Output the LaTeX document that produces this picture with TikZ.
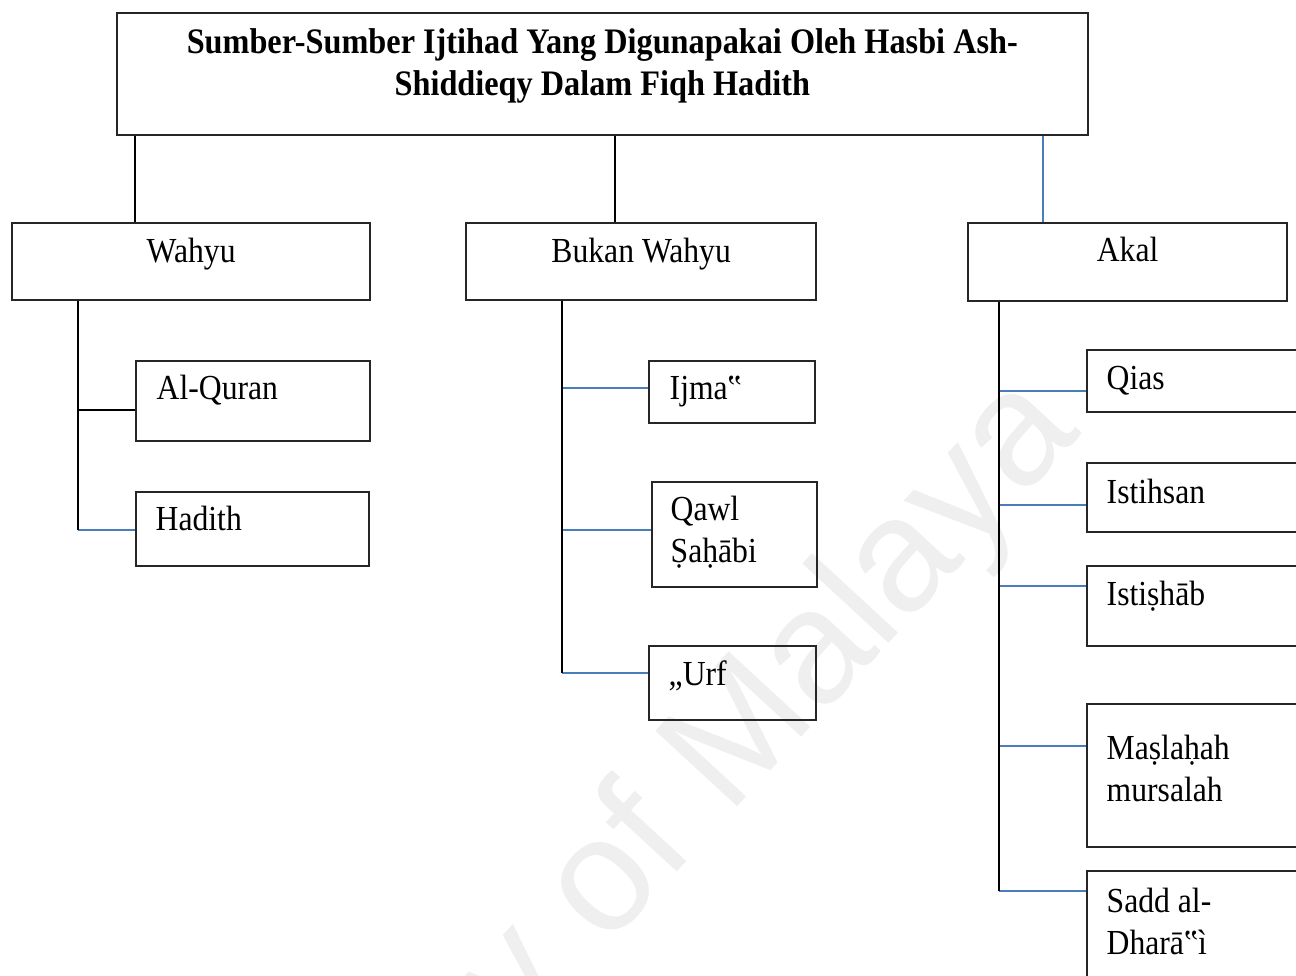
\documentclass[tikz,border=0pt]{standalone}
\usepackage{fontspec}
\setmainfont{Liberation Serif}[FakeStretch=0.9]
\newfontfamily\tandaair{Liberation Sans}

\definecolor{birugaris}{RGB}{74,126,187}
\definecolor{kelabu}{RGB}{239,239,239}

\tikzset{
    kotak/.style={draw=black!85, line width=0.6pt, inner sep=0pt, anchor=north west},
    teks/.style={anchor=north west, inner sep=0pt, align=left, font=\fontsize{10}{12}\selectfont},
    hitam/.style={draw=black, line width=0.6pt},
    biru/.style={draw=birugaris, line width=0.6pt}
}

\begin{document}
\begin{tikzpicture}[x=0.01cm, y=-0.01cm]
        \useasboundingbox (0,0) rectangle (1296,976);
        \clip (0,0) rectangle (1296,976);

        % Tanda air
        \node[rotate=47.3, text=kelabu, font=\tandaair\fontsize{46}{46}\selectfont] (tanda) at (558,940) {University of Malaya};

        % Tajuk
        \node[kotak, minimum width=9.70cm, minimum height=1.22cm,
              label={[teks, anchor=north, align=center, font=\fontsize{10.2}{12}\selectfont\bfseries, yshift=-0.114cm]north:{\strut Sumber-Sumber Ijtihad Yang Digunapakai Oleh Hasbi Ash-\\Shiddieqy Dalam Fiqh Hadith}}] (judul) at (116,12) {};

        % Tiga sumber
        \node[kotak, minimum width=3.58cm, minimum height=0.77cm, label={[teks, anchor=north, yshift=-0.104cm]north:\strut Wahyu}] (wahyu) at (11,222) {};
        \node[kotak, minimum width=3.50cm, minimum height=0.77cm, label={[teks, anchor=north, yshift=-0.104cm]north:\strut Bukan Wahyu}] (bukan) at (465,222) {};
        \node[kotak, minimum width=3.19cm, minimum height=0.78cm, label={[teks, anchor=north, yshift=-0.094cm]north:\strut Akal}] (akal) at (967,222) {};

        % Wahyu
        \node[kotak, minimum width=2.34cm, minimum height=0.80cm, label={[teks, xshift=0.21cm, yshift=-0.094cm]north west:\strut Al-Quran}] (quran) at (135,360) {};
        \node[kotak, minimum width=2.33cm, minimum height=0.74cm, label={[teks, xshift=0.20cm, yshift=-0.094cm]north west:\strut Hadith}] (hadith) at (135,491) {};

        % Bukan wahyu
        \node[kotak, minimum width=1.66cm, minimum height=0.62cm, label={[teks, xshift=0.21cm, yshift=-0.094cm]north west:\strut Ijma‟}] (ijma) at (648,360) {};
        \node[kotak, minimum width=1.65cm, minimum height=1.05cm, label={[teks, xshift=0.19cm, yshift=-0.094cm]north west:{\strut Qawl\\Ṣaḥābi}}] (qawl) at (651,481) {};
        \node[kotak, minimum width=1.67cm, minimum height=0.74cm, label={[teks, xshift=0.20cm, yshift=-0.104cm]north west:\strut „Urf}] (urf) at (648,645) {};

        % Akal
        \node[kotak, minimum width=2.30cm, minimum height=0.62cm, label={[teks, xshift=0.20cm, yshift=-0.104cm]north west:\strut Qias}] (qias) at (1086,349) {};
        \node[kotak, minimum width=2.30cm, minimum height=0.69cm, label={[teks, xshift=0.20cm, yshift=-0.114cm]north west:\strut Istihsan}] (istihsan) at (1086,462) {};
        \node[kotak, minimum width=2.30cm, minimum height=0.80cm, label={[teks, xshift=0.20cm, yshift=-0.104cm]north west:\strut Istiṣhāb}] (istishab) at (1086,565) {};
        \node[kotak, minimum width=2.30cm, minimum height=1.43cm, label={[teks, xshift=0.20cm, yshift=-0.264cm]north west:{\strut Maṣlaḥah\\mursalah}}] (maslahah) at (1086,703) {};
        \node[kotak, minimum width=2.30cm, minimum height=1.40cm, label={[teks, xshift=0.20cm, yshift=-0.124cm]north west:{\strut Sadd al-\\Dharā‟ì}}] (sadd) at (1086,870) {};

        % Garis dari tajuk
        \coordinate (w-atas) at ([xshift=1.24cm]wahyu.north west);
        \coordinate (b-atas) at ([xshift=1.50cm]bukan.north west);
        \coordinate (a-atas) at ([xshift=0.76cm]akal.north west);
        \draw[hitam] (w-atas) -- (w-atas |- judul.south);
        \draw[hitam] (b-atas) -- (b-atas |- judul.south);
        \draw[biru] (a-atas) -- (a-atas |- judul.south);

        % Batang
        \coordinate (w-bawah) at ([xshift=0.67cm]wahyu.south west);
        \coordinate (b-bawah) at ([xshift=0.97cm]bukan.south west);
        \coordinate (a-bawah) at ([xshift=0.32cm]akal.south west);

        % Cabang
        \foreach \n/\dy/\w/\t in {quran/0.50/hitam/w-bawah, hadith/0.39/biru/w-bawah,
                                  ijma/0.28/biru/b-bawah, qawl/0.49/biru/b-bawah, urf/0.28/biru/b-bawah,
                                  qias/0.42/biru/a-bawah, istihsan/0.43/biru/a-bawah, istishab/0.21/biru/a-bawah,
                                  maslahah/0.43/biru/a-bawah, sadd/0.21/biru/a-bawah}{
            \coordinate (\n-c) at ([yshift=-\dy cm]\n.north west);
            \draw[\w] (\t |- \n-c) -- (\n-c);
        }

        \draw[hitam] (w-bawah) -- (w-bawah |- hadith-c);
        \draw[hitam] (b-bawah) -- (b-bawah |- urf-c);
        \draw[hitam] (a-bawah) -- (a-bawah |- sadd-c);
    \end{tikzpicture}
\end{document}
